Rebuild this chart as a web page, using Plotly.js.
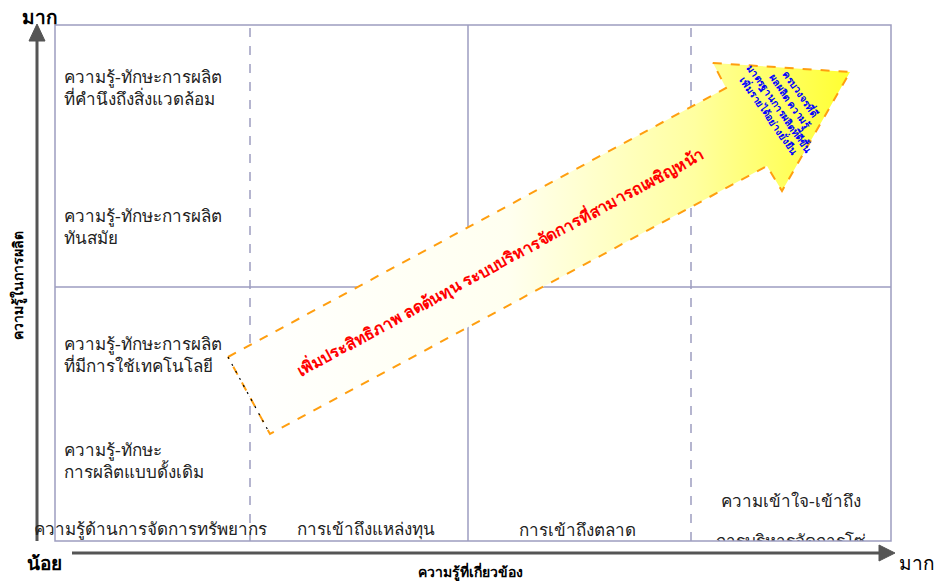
<!DOCTYPE html>
<html><head><meta charset="utf-8">
<script src="https://cdn.plot.ly/plotly-3.0.1.min.js"></script>
<style>html,body{margin:0;padding:0;background:#fff}#c{width:938px;height:581px}</style>
</head><body><div id="c"></div>
<script>
// ---- content ----
const rowLabels = [
  "ความรู้-ทักษะการผลิต<br>ที่คำนึงถึงสิ่งแวดล้อม",
  "ความรู้-ทักษะการผลิต<br>ทันสมัย",
  "ความรู้-ทักษะการผลิต<br>ที่มีการใช้เทคโนโลยี",
  "ความรู้-ทักษะ<br>การผลิตแบบดั้งเดิม"
];
const colLabels = [
  "ความรู้ด้านการจัดการทรัพยากร",
  "การเข้าถึงแหล่งทุน",
  "การเข้าถึงตลาด",
  "ความเข้าใจ-เข้าถึง"
];
const clippedLabel = "การบริหารจัดการโซ่";
const arrowText = "เพิ่มประสิทธิภาพ ลดต้นทุน ระบบบริหารจัดการที่สามารถเผชิญหน้า";
const headText = ["ครบวงจรที่ดี", "ผลผลิต ความรู้", "มาตรฐานการผลิตที่ดีขึ้น", "เพิ่มรายได้อย่างยั่งยืน"];
const xTitle = "ความรู้ที่เกี่ยวข้อง";
const yTitle = "ความรู้ในการผลิต";
const lowLabel = "น้อย";
const highLabel = "มาก";

// ---- layout geometry (pixels) ----
const W = 938, H = 581;
const L = 55, R = 891, T = 25, B = 541;
const px = x => (x - L) / (R - L);
const py = y => (B - y) / (B - T);
const FONT = "'Liberation Serif', 'DejaVu Serif', serif";
const BOX = "#9d9dc0";

// arrow polygon
const ax = [228, 726, 713, 850, 782, 767, 270, 228];
const ay = [357, 88, 63, 72, 191, 166, 434, 357];

const traces = [];
traces.push({
  x: ax, y: ay, type: "scatter", mode: "lines", fill: "toself",
  line: {color: "#ff9e0f", width: 2, dash: "dash"},
  fillgradient: {type: "horizontal", colorscale: [[0, "#ffffff"], [0.45, "#fffff0"], [0.75, "#ffffa0"], [1, "#ffff30"]]},
  hoverinfo: "skip", showlegend: false
});
traces.push({
  x: [ax[0], ax[6]], y: [ay[0], ay[6]], type: "scatter", mode: "lines",
  line: {color: "#000", width: 1.2, dash: "2px,6px"}, hoverinfo: "skip", showlegend: false
});
traces.push({
  x: [791], y: [534], type: "scatter", mode: "text", text: [clippedLabel],
  textposition: "bottom center",
  textfont: {family: FONT, size: 17, color: "#222"}, cliponaxis: true,
  hoverinfo: "skip", showlegend: false
});

const shapes = [
  {type: "rect", xref: "paper", yref: "paper", x0: 0, x1: 1, y0: 0, y1: 1, line: {color: BOX, width: 1.5}},
  {type: "line", xref: "x", yref: "paper", x0: 468, x1: 468, y0: 0, y1: 1, line: {color: BOX, width: 1.5}, layer: "below"},
  {type: "line", xref: "paper", yref: "y", x0: 0, x1: 1, y0: 287, y1: 287, line: {color: BOX, width: 1.5}, layer: "below"},
  {type: "line", xref: "x", yref: "paper", x0: 250, x1: 250, y0: 0, y1: 1, line: {color: BOX, width: 1.5, dash: "dash"}, layer: "below"},
  {type: "line", xref: "x", yref: "paper", x0: 691, x1: 691, y0: 0, y1: 1, line: {color: BOX, width: 1.5, dash: "dash"}, layer: "below"},
  // axis arrows
  {type: "line", xref: "paper", yref: "paper", x0: px(37), x1: px(37), y0: py(541), y1: py(40), line: {color: "#555", width: 3}},
  {type: "path", xref: "paper", yref: "paper", path: `M ${px(29)} ${py(41)} L ${px(37)} ${py(24)} L ${px(45)} ${py(41)} Z`, fillcolor: "#555", line: {color: "#555", width: 1}},
  {type: "line", xref: "paper", yref: "paper", x0: px(72), x1: px(880), y0: py(553), y1: py(553), line: {color: "#555", width: 3}},
  {type: "path", xref: "paper", yref: "paper", path: `M ${px(879)} ${py(545)} L ${px(895)} ${py(553)} L ${px(879)} ${py(561)} Z`, fillcolor: "#555", line: {color: "#555", width: 1}}
];

const ann = [];
const rowY = [88, 227, 355, 461];
rowLabels.forEach((t, i) => ann.push({x: 62, y: rowY[i], xref: "x", yref: "y", text: t, showarrow: false, xanchor: "left", yanchor: "middle", align: "left", font: {family: FONT, size: 17, color: "#222"}}));
const colX = [150, 366, 577, 791];
const colY = [530, 530, 530, 501];
colLabels.forEach((t, i) => ann.push({x: px(colX[i]), y: py(colY[i]), xref: "paper", yref: "paper", text: t, showarrow: false, xanchor: "center", yanchor: "middle", font: {family: FONT, size: 17, color: "#222"}}));
ann.push({x: 500, y: 262, xref: "x", yref: "y", text: "<b>" + arrowText + "</b>", showarrow: false, xanchor: "center", yanchor: "middle", textangle: -28.4, font: {family: FONT, size: 16, color: "#ff0000"}});
ann.push({x: 785, y: 104, xref: "x", yref: "y", text: "<b>" + headText.join("<br>") + "</b>", showarrow: false, xanchor: "center", yanchor: "middle", textangle: 55, font: {family: FONT, size: 10, color: "#0000ff"}});
const c = (x, y, t, size, ang) => ({x: px(x), y: py(y), xref: "paper", yref: "paper", text: t, showarrow: false, xanchor: "center", yanchor: "middle", textangle: ang || 0, font: {family: FONT, size: size, color: "#000"}});
ann.push(c(40, 18, "<b>" + highLabel + "</b>", 19));
ann.push(c(44, 563, "<b>" + lowLabel + "</b>", 19));
ann.push(c(917, 563, highLabel, 19));
ann.push(c(470, 571, "<b>" + xTitle + "</b>", 14));
ann.push(c(18, 286, "<b>" + yTitle + "</b>", 14, -90));

const layout = {
  width: W, height: H, margin: {l: L, r: W - R, t: T, b: H - B, pad: 0},
  paper_bgcolor: "#fff", plot_bgcolor: "#fff",
  xaxis: {range: [L, R], visible: false, fixedrange: true},
  yaxis: {range: [B, T], visible: false, fixedrange: true},
  shapes: shapes, annotations: ann, showlegend: false
};
Plotly.newPlot("c", traces, layout, {displayModeBar: false, staticPlot: true});
</script></body></html>
